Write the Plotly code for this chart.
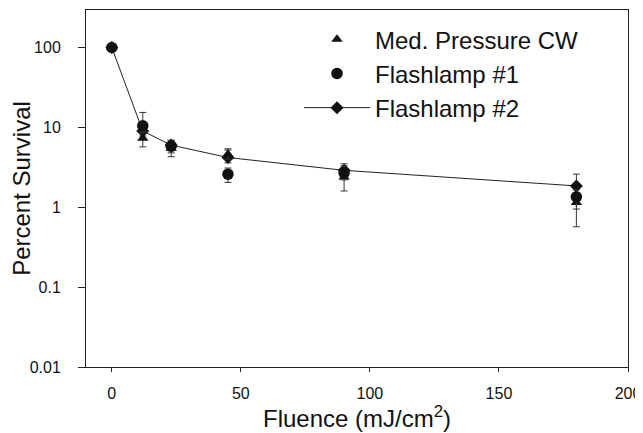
import plotly.graph_objects as go

fluence = [0, 12, 23, 45, 90, 180]

cw_survival = [100, 7.3, 5.5, 4.6, 2.4, 1.15]
cw_err_plus = [0, 1.5, 1.2, 0.8, 0.5, 0.3]
cw_err_minus = [0, 1.6, 1.2, 0.6, 0.8, 0.58]

fl1_survival = [100, 10.5, 5.8, 2.6, 2.7, 1.35]
fl1_err_plus = [0, 4.9, 1.0, 0.5, 0.6, 0.3]
fl1_err_minus = [0, 2.0, 1.0, 0.55, 0.5, 0.4]

fl2_survival = [100, 9.0, 6.0, 4.2, 2.9, 1.85]
fl2_err_plus = [0, 1.2, 0.9, 1.0, 0.6, 0.75]
fl2_err_minus = [0, 1.2, 0.9, 0.6, 0.5, 0.4]

y_ticks = [0.01, 0.1, 1, 10, 100]
y_tick_labels = ["0.01", "0.1", "1", "10", "100"]
x_ticks = [0, 50, 100, 150, 200]

FONT = "Arial, Liberation Sans, sans-serif"
ink = "#111111"

def err(p, m):
    return dict(type="data", symmetric=False, array=p, arrayminus=m,
                color="#333333", thickness=1, width=3.5)

fig = go.Figure()
fig.add_trace(go.Scatter(
    x=fluence, y=fl2_survival, mode="lines+markers", name="Flashlamp #2",
    legendrank=3,
    line=dict(color="#222222", width=1),
    marker=dict(symbol="diamond", size=10, color=ink),
    error_y=err(fl2_err_plus, fl2_err_minus)))
fig.add_trace(go.Scatter(
    x=fluence, y=cw_survival, mode="markers", name="Med. Pressure CW",
    legendrank=1,
    marker=dict(symbol="triangle-up", size=10, color=ink),
    error_y=err(cw_err_plus, cw_err_minus)))
fig.add_trace(go.Scatter(
    x=fluence, y=fl1_survival, mode="markers", name="Flashlamp #1",
    legendrank=2,
    marker=dict(symbol="circle", size=11.5, color=ink),
    error_y=err(fl1_err_plus, fl1_err_minus)))

fig.update_layout(
    width=635, height=425,
    margin=dict(l=78, r=15, t=2, b=66, autoexpand=False),
    paper_bgcolor="white", plot_bgcolor="white",
    font=dict(family=FONT, color=ink),
    showlegend=True,
    legend=dict(x=0.393, y=0.98, xanchor="left", yanchor="top",
                font=dict(size=24, family=FONT, color=ink),
                bgcolor="rgba(0,0,0,0)", itemwidth=66,
                tracegroupgap=0, traceorder="normal"),
    xaxis=dict(range=[-10, 200], tickvals=x_ticks,
               showgrid=False, zeroline=False,
               showline=True, linecolor="#222222", linewidth=1, mirror=True,
               ticks="outside", ticklen=4, tickcolor="#222222",
               ticklabelstandoff=8,
               tickfont=dict(size=16, family=FONT, color=ink),
               title=dict(text="Fluence (mJ/cm<sup>2</sup>)", standoff=4,
                          font=dict(size=24, family=FONT, color=ink))),
    yaxis=dict(type="log", range=[-2, 2.47], tickvals=y_ticks,
               ticktext=y_tick_labels,
               showgrid=False, zeroline=False,
               showline=True, linecolor="#222222", linewidth=1, mirror=True,
               ticks="outside", ticklen=7, tickcolor="#222222",
               ticklabelstandoff=14,
               tickfont=dict(size=16, family=FONT, color=ink),
               title=dict(text="Percent Survival", standoff=3,
                          font=dict(size=24, family=FONT, color=ink))),
)

fig.write_html("out.html")
